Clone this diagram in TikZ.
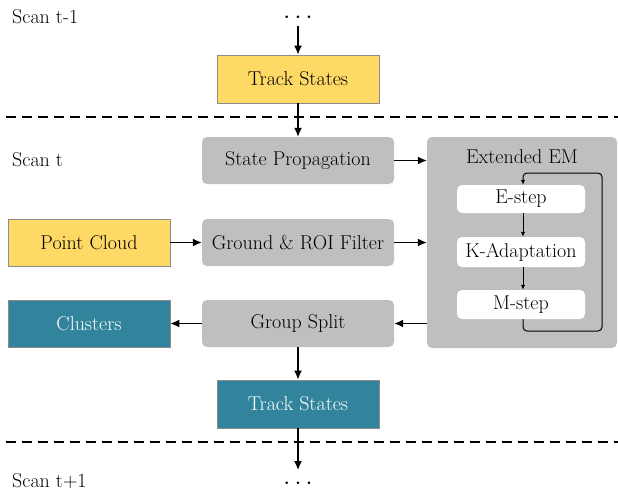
\documentclass[tikz,border=0pt]{standalone}
\usetikzlibrary{arrows.meta}
\definecolor{ygold}{HTML}{FFD966}
\definecolor{teal2}{HTML}{31849B}
\definecolor{gbox}{HTML}{BFBFBF}
\definecolor{edgegray}{HTML}{8C8C8C}
\tikzset{
  base/.style={font=\fontsize{20}{24}\selectfont, inner sep=0pt, align=center},
  yellowbox/.style={base, fill=ygold, draw=edgegray, line width=0.9pt, minimum width=162pt, minimum height=48pt},
  tealbox/.style={base, fill=teal2, draw=edgegray, line width=0.9pt, text=white, minimum width=162pt, minimum height=48pt},
  graybox/.style={base, fill=gbox, rounded corners=5pt, minimum width=192pt, minimum height=47pt},
  whitebox/.style={base, fill=white, rounded corners=5pt, minimum width=128pt},
  arr/.style={-{Latex[length=9pt,width=8pt]}, line width=1.3pt},
  thinarr/.style={-{Latex[length=5pt,width=4.5pt]}, line width=1pt},
  divider/.style={dash pattern=on 10pt off 6pt, line width=1.2pt},
  scanlabel/.style={base, anchor=west},
  dotsnode/.style={base, font=\fontsize{30}{30}\selectfont}
}
\begin{document}
\begin{tikzpicture}[x=1pt,y=-1pt]
\useasboundingbox (0,0) rectangle (618,491);
% labels
\node[scanlabel] (s1) at (12,17) {Scan t-1};
\node[scanlabel] (s2) at (12,160) {Scan t};
\node[scanlabel] (s3) at (12,481) {Scan t+1};
% dividers
\coordinate (dl1) at (6,117); \coordinate (dr1) at (618,117);
\coordinate (dl2) at (6,442); \coordinate (dr2) at (618,442);
\draw[divider] (dl1) -- (dr1);
\draw[divider] (dl2) -- (dr2);
% dots
\node[dotsnode] (dtop) at (298,18) {$\cdots$};
\node[dotsnode] (dbot) at (298,484) {$\cdots$};
\coordinate (a0) at (298,26);
\coordinate (a1) at (298,470);
% boxes
\node[yellowbox] (ts1) at (298,79) {Track States};
\node[graybox] (sp) at (298,160.5) {State Propagation};
\node[yellowbox, minimum height=47pt] (pc) at (89,242.5) {Point Cloud};
\node[graybox] (gr) at (298,242.5) {Ground \& ROI Filter};
\node[tealbox, minimum height=47pt] (cl) at (89,323.5) {Clusters};
\node[graybox] (gs) at (298,323.5) {Group Split};
\node[tealbox] (ts2) at (298,404) {Track States};
% Extended EM
\node[base, fill=gbox, rounded corners=5pt, minimum width=190pt, minimum height=211pt] (em) at (522,242.5) {};
\node[base] (emt) at (522,157) {Extended EM};
\node[whitebox, minimum height=28pt] (es) at (521,199) {E-step};
\node[whitebox, minimum height=30pt] (ka) at (521,252) {K-Adaptation};
\node[whitebox, minimum height=29pt] (ms) at (521,304.5) {M-step};
% arrows
\draw[arr] (a0) -- (ts1.north);
\draw[arr] (ts1.south) -- (sp.north);
\draw[arr] (sp.east) -- (sp.east -| em.west);
\draw[arr] (pc.east) -- (gr.west);
\draw[arr] (gr.east) -- (gr.east -| em.west);
\draw[arr] (gs.east -| em.west) -- (gs.east);
\draw[arr] (gs.west) -- (cl.east);
\draw[arr] (gs.south) -- (ts2.north);
\draw[arr] (ts2.south) -- (a1);
% inner EM arrows
\draw[thinarr] (es.south -| 523,0) -- (ka.north -| 523,0);
\draw[thinarr] (ka.south -| 523,0) -- (ms.north -| 523,0);
\draw[thinarr, rounded corners=4pt] (ms.south -| 523,0) -- (523,331) -- (602,331) -- (602,173) -- (523,173) -- (es.north -| 523,0);
\end{tikzpicture}
\end{document}
